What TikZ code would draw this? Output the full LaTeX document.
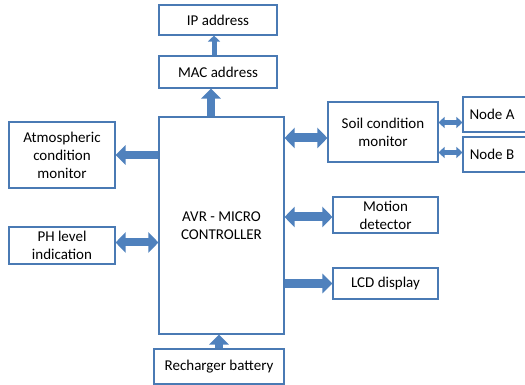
\documentclass[tikz,border=0pt]{standalone}
\usepackage{fontspec}
\setmainfont{Carlito}
\usetikzlibrary{arrows.meta}

\definecolor{boxline}{HTML}{4A7AB4}
\definecolor{arrfill}{HTML}{4F81BD}

\begin{document}
\begin{tikzpicture}[
                x=1pt, y=1pt,
                bloco/.style={shape=rectangle, draw=boxline, line width=1.1pt, fill=white,
                    align=center, inner sep=2pt, font=\fontsize{15}{18}\selectfont},
                seta/.style={draw=arrfill, line width=8pt,
                    -{Triangle[width=19pt, length=10pt]}},
                setadupla/.style={draw=arrfill, line width=9pt,
                    {Triangle[width=20pt, length=10pt]}-{Triangle[width=20pt, length=10pt]}},
                setafina/.style={draw=arrfill, line width=5pt,
                    {Triangle[width=11pt, length=6pt]}-{Triangle[width=11pt, length=6pt]}},
            ]
            \useasboundingbox (0, 0) rectangle (525, 385);

            \node[bloco, minimum width=118, minimum height=30] (ip) at (218, 365) {IP address};
            \node[bloco, minimum width=118, minimum height=32] (mac) at (218, 313) {MAC address};
            \node[bloco, minimum width=125, minimum height=217] (avr) at (221.5, 159.5) {AVR - MICRO\\CONTROLLER};
            \node[bloco, minimum width=106, minimum height=66] (atm) at (62, 230) {Atmospheric\\condition\\monitor};
            \node[bloco, minimum width=106, minimum height=37] (ph) at (62, 139.5) {PH level\\indication};
            \node[bloco, minimum width=110, minimum height=60] (soil) at (383, 253) {Soil condition\\monitor};
            \node[bloco, minimum width=66, minimum height=35] (na) at (496, 270.5) {\hspace*{-8pt}Node A};
            \node[bloco, minimum width=66, minimum height=35] (nb) at (496, 230.5) {\hspace*{-8pt}Node B};
            \node[bloco, minimum width=105, minimum height=36] (motion) at (385.5, 170) {Motion\\detector};
            \node[bloco, minimum width=105, minimum height=31] (lcd) at (385.5, 101.5) {LCD display};
            \node[bloco, minimum width=130, minimum height=35] (bat) at (219, 18.5) {Recharger battery};

            % ligacoes verticais
            \draw[seta] ([xshift=-7pt]mac.south |- avr.north) -- ([xshift=-7pt]mac.south);
            \draw[draw=arrfill, line width=5pt, -{Triangle[width=12pt, length=6pt]}]
                ([xshift=-4pt]ip.south |- mac.north) -- ([xshift=-4pt]ip.south);
            \draw[seta] (bat.north) -- (bat.north |- avr.south);

            % lado esquerdo
            \draw[seta] (avr.west |- atm) -- (atm.east);
            \draw[setadupla, line width=8pt] ([yshift=3pt]avr.west |- ph) -- ([yshift=3pt]ph.east);

            % lado direito
            \draw[setadupla] ([yshift=-6pt]avr.east |- soil) -- ([yshift=-6pt]soil.west);
            \draw[setadupla] ([yshift=-2pt]avr.east |- motion) -- ([yshift=-2pt]motion.west);
            \draw[seta, line width=9pt] (avr.east |- lcd) -- (lcd.west);
            \draw[setafina] ([yshift=-8pt]soil.east |- na) -- ([yshift=-8pt]na.west);
            \draw[setafina] ([yshift=2pt]soil.east |- nb) -- ([yshift=2pt]nb.west);
        \end{tikzpicture}
\end{document}
